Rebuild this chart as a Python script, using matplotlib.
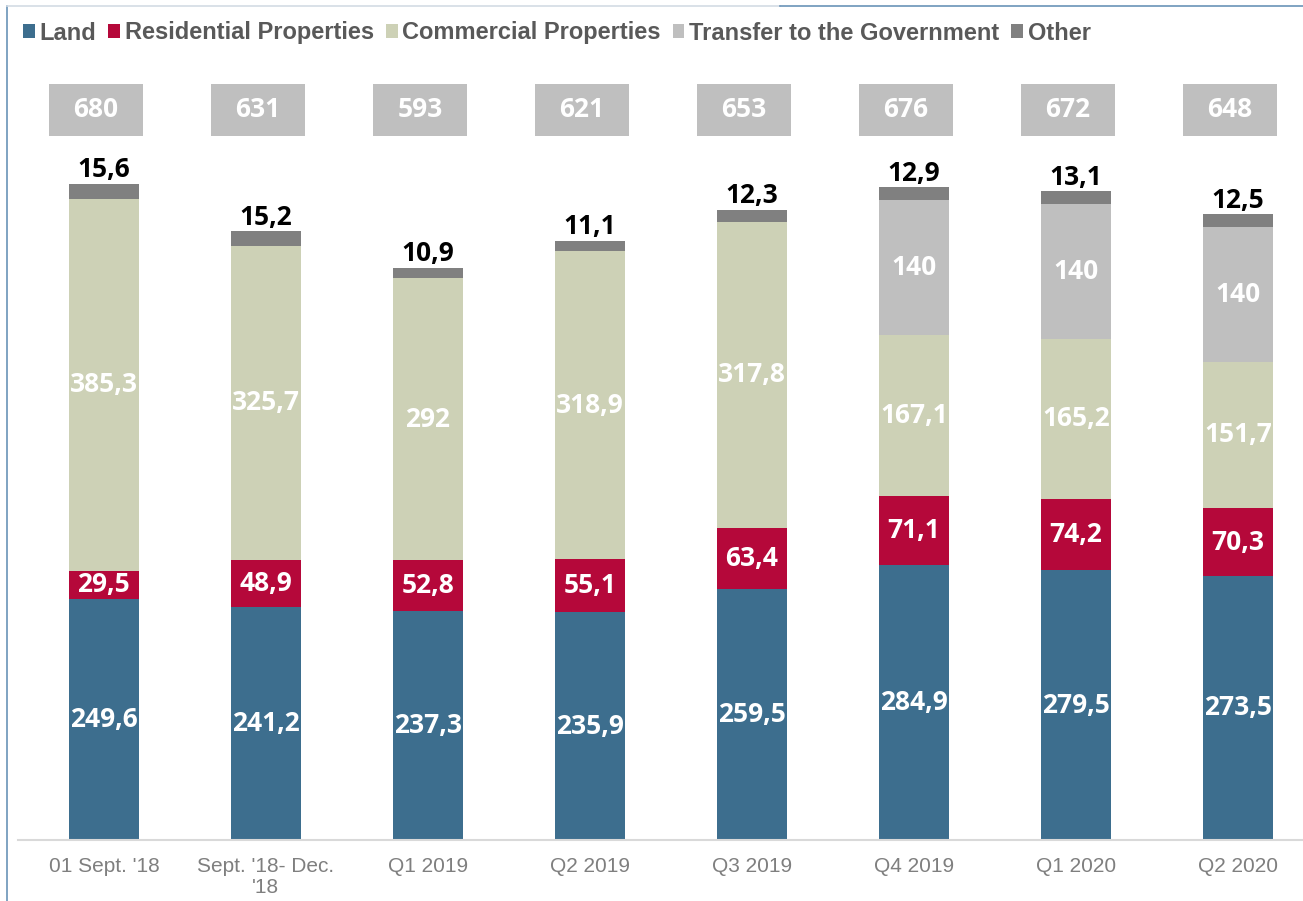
import matplotlib.pyplot as plt
from matplotlib.lines import Line2D
from matplotlib.patches import Patch

periods = ["01 Sept. '18", "Sept. '18- Dec.\n'18", "Q1 2019", "Q2 2019",
           "Q3 2019", "Q4 2019", "Q1 2020", "Q2 2020"]
land = [249.6, 241.2, 237.3, 235.9, 259.5, 284.9, 279.5, 273.5]
residential = [29.5, 48.9, 52.8, 55.1, 63.4, 71.1, 74.2, 70.3]
commercial = [385.3, 325.7, 292, 318.9, 317.8, 167.1, 165.2, 151.7]
transfer = [0, 0, 0, 0, 0, 140, 140, 140]
other = [15.6, 15.2, 10.9, 11.1, 12.3, 12.9, 13.1, 12.5]
totals = [680, 631, 593, 621, 653, 676, 672, 648]

series = [
    ("Land", land, "#3D6E8E"),
    ("Residential Properties", residential, "#B5083A"),
    ("Commercial Properties", commercial, "#CDD1B6"),
    ("Transfer to the Government", transfer, "#BFBFBF"),
    ("Other", other, "#808080"),
]


def fmt(v):
    if float(v).is_integer():
        return str(int(v))
    return f"{v:.1f}".replace(".", ",")


fig = plt.figure(figsize=(13.03, 9.01), dpi=100)
ax = fig.add_axes([18 / 1303, 61 / 901, 1285 / 1303, 780 / 901])

x = list(range(len(periods)))
bar_w = 0.43
label_font = "Open Sans"
bottoms = [0.0] * len(x)

for name, vals, color in series:
    ax.bar(x, vals, bar_w, bottom=bottoms, color=color, linewidth=0)
    for i, v in enumerate(vals):
        if v == 0:
            continue
        if name == "Other":
            ax.text(i, bottoms[i] + v + 6.5, fmt(v), ha="center", va="baseline",
                    fontsize=19, fontweight="bold", color="black",
                    family=label_font)
        else:
            ax.text(i, bottoms[i] + v / 2, fmt(v), ha="center", va="center",
                    fontsize=19, fontweight="bold", color="white",
                    family=label_font)
    bottoms = [b + v for b, v in zip(bottoms, vals)]

# totals in grey boxes above the bars
box_h = 54
box_bottom = 729.5
box_x = [i - 0.05 for i in x]
ax.bar(box_x, [box_h] * len(x), 0.58, bottom=box_bottom, color="#BFBFBF", linewidth=0)
for i, t in enumerate(totals):
    ax.text(box_x[i], box_bottom + box_h / 2, fmt(t), ha="center", va="center",
            fontsize=19, fontweight="bold", color="white", family=label_font)

ax.set_xlim(-0.53, 7.4)
ax.set_ylim(0, 808)
ax.set_xticks(x)
ax.set_xticklabels(periods, fontsize=15, color="#7F7F7F",
                   family="Liberation Sans", linespacing=1.15)
ax.tick_params(axis="x", length=0, pad=12)
ax.set_yticks([])
for side in ["top", "right", "left"]:
    ax.spines[side].set_visible(False)
ax.spines["bottom"].set_color("#D9D9D9")
ax.spines["bottom"].set_linewidth(1.5)

handles = [Patch(facecolor=c, edgecolor="none", label=n) for n, _, c in series]
leg = fig.legend(handles=handles, loc="center left",
                 bbox_to_anchor=(2 / 1303, 1 - 33 / 901), ncol=5,
                 frameon=False, handlelength=0.5, handleheight=0.5,
                 handletextpad=0.2, columnspacing=0.5,
                 prop={"family": "Liberation Sans", "weight": "bold", "size": 17})
for t in leg.get_texts():
    t.set_color("#595959")

# outer frame lines
fig.add_artist(Line2D([7 / 1303, 7 / 1303], [0, 1 - 6 / 901],
                      color="#6A93B8", linewidth=1.2))
fig.add_artist(Line2D([7 / 1303, 780 / 1303], [1 - 6 / 901, 1 - 6 / 901],
                      color="#D3DCE4", linewidth=1.2))
fig.add_artist(Line2D([780 / 1303, 1], [1 - 6 / 901, 1 - 6 / 901],
                      color="#6A93B8", linewidth=1.2))

fig.savefig("out.png", dpi=100)
